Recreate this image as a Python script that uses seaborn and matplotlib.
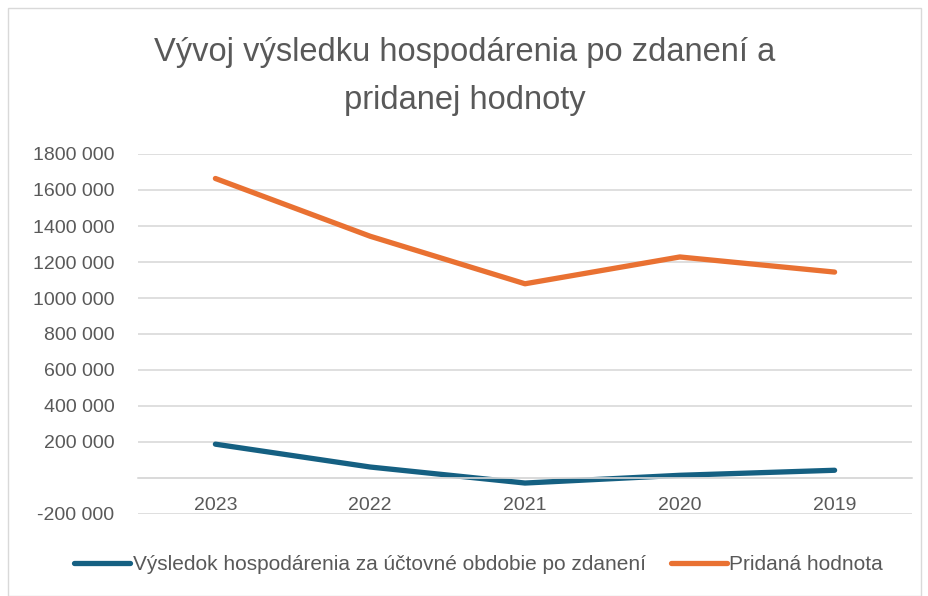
import pandas as pd
import matplotlib.pyplot as plt
import matplotlib.ticker as mticker
from matplotlib.patches import Rectangle
import seaborn as sns

# Data
years = ["2023", "2022", "2021", "2020", "2019"]
vysledok = [188000, 61000, -28000, 15000, 43000]
pridana = [1664000, 1343000, 1079000, 1228000, 1144000]
series_names = ["Výsledok hospodárenia za účtovné obdobie po zdanení", "Pridaná hodnota"]
colors = ["#156082", "#E97132"]

df = pd.DataFrame({
    "rok": years * 2,
    "hodnota": vysledok + pridana,
    "seria": [series_names[0]] * len(years) + [series_names[1]] * len(years),
})

sns.set_theme(style="white")
plt.rcParams["font.family"] = ["Liberation Sans", "DejaVu Sans"]

fig = plt.figure(figsize=(9.29, 5.96), dpi=100)
ax = fig.add_axes([138 / 929, 1 - 514 / 596, 774 / 929, 360 / 596])

sns.lineplot(data=df, x="rok", y="hodnota", hue="seria", palette=colors,
             linewidth=3.8, ax=ax, legend=False, sort=False,
             solid_capstyle="round", solid_joinstyle="round")

ax.set_xlim(-0.5, 4.5)
ax.set_ylim(-200000, 1800000)
ax.yaxis.set_major_locator(mticker.MultipleLocator(200000))


def fmt(v, pos):
    if abs(v) < 1:
        return ""
    s = f"{int(round(v)):,}".replace(",", "")
    sign = "-" if s.startswith("-") else ""
    s = s.lstrip("-")
    if len(s) > 3:
        s = s[:-3] + " " + s[-3:]
    return sign + s


ax.yaxis.set_major_formatter(mticker.FuncFormatter(fmt))
ax.grid(axis="y", color="#d9d9d9", linewidth=1.2)
ax.set_axisbelow(True)
for side in ["left", "right", "top"]:
    ax.spines[side].set_visible(False)
ax.spines["bottom"].set_position(("data", 0))
ax.spines["bottom"].set_color("#d9d9d9")
ax.spines["bottom"].set_linewidth(1.2)
ax.tick_params(axis="x", length=0, pad=14, labelsize=14, labelcolor="#595959")
ax.tick_params(axis="y", length=0, pad=17, labelsize=14, labelcolor="#595959")
ax.set_xlabel("")
ax.set_ylabel("")

fig.text(0.5, 1 - 52 / 596, "Vývoj výsledku hospodárenia po zdanení a",
         ha="center", va="center", fontsize=23.5, color="#595959")
fig.text(0.5, 1 - 100 / 596, "pridanej hodnoty",
         ha="center", va="center", fontsize=23.5, color="#595959")

handles = [plt.Line2D([], [], color=c, linewidth=3.8, solid_capstyle="round") for c in colors]
fig.legend(handles, series_names, loc="center", bbox_to_anchor=(0.515, 1 - 565 / 596),
           ncol=2, frameon=False, fontsize=15, handlelength=2.7, handletextpad=0.1,
           columnspacing=1.2, labelcolor="#595959")

fig.patches.append(Rectangle((8 / 929, 0), 1 - 16 / 929, 1 - 8 / 596, transform=fig.transFigure,
                             fill=False, edgecolor="#d9d9d9", linewidth=1))

fig.savefig("out.png", dpi=100)
